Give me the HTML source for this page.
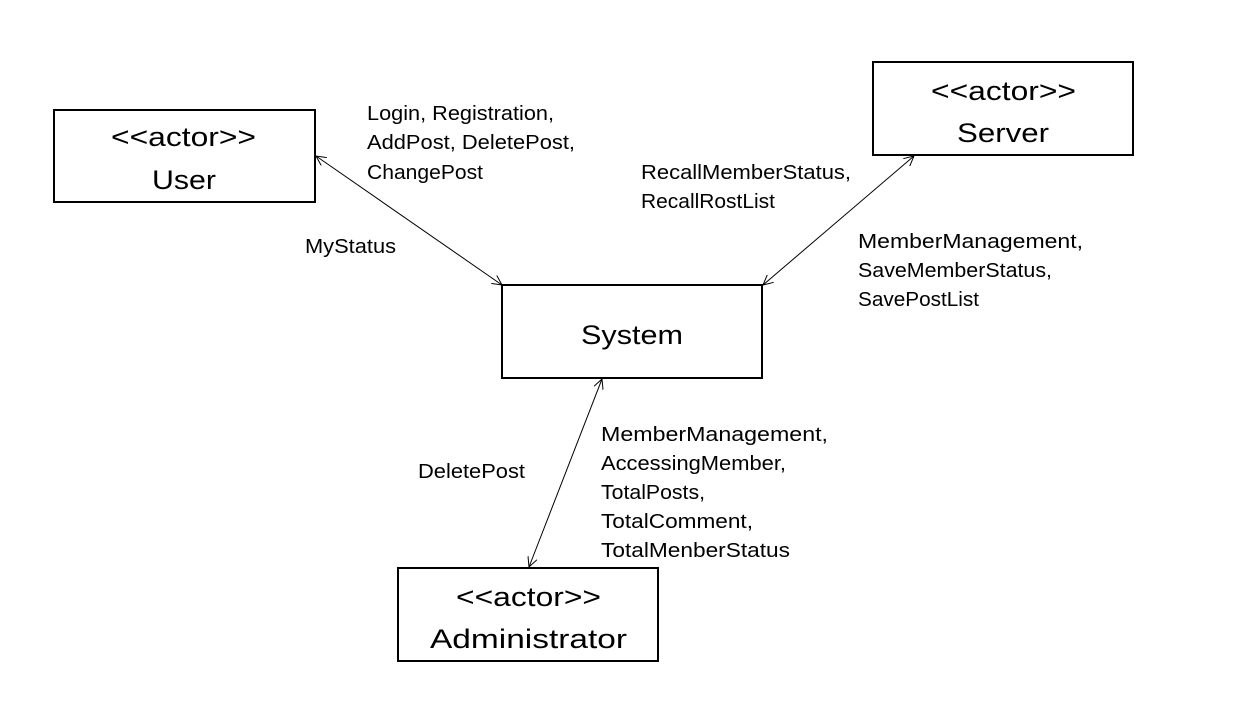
<!DOCTYPE html>
<html><head><meta charset="utf-8"><style>html,body{margin:0;padding:0;background:#fff}svg{display:block}</style></head>
<body>
<svg width="1243" height="703" xmlns="http://www.w3.org/2000/svg" font-family="Liberation Sans, sans-serif">
<defs>
<marker id="a" viewBox="0 0 10 10" refX="10" refY="5" markerWidth="10" markerHeight="10" markerUnits="userSpaceOnUse" orient="auto-start-reverse">
<path d="M0,0 L10,5 L0,10" fill="none" stroke="#000" stroke-width="1"/>
</marker>
</defs>
<g fill="#fff" stroke="#000" stroke-width="2">
<rect x="54" y="110" width="261" height="92"/>
<rect x="873" y="62" width="260" height="93"/>
<rect x="502" y="285" width="260" height="93"/>
<rect x="398" y="568" width="260" height="93"/>
</g>
<g stroke="#000" stroke-width="1" marker-start="url(#a)" marker-end="url(#a)">
<line x1="316" y1="156" x2="502" y2="285"/>
<line x1="914" y1="156" x2="763" y2="285"/>
<line x1="602" y1="379" x2="529" y2="567"/>
</g>
<g font-size="27" fill="#000">
<text x="111" y="146" textLength="145" lengthAdjust="spacingAndGlyphs">&lt;&lt;actor&gt;&gt;</text>
<text x="152" y="189" textLength="64" lengthAdjust="spacingAndGlyphs">User</text>
<text x="931" y="100" textLength="145" lengthAdjust="spacingAndGlyphs">&lt;&lt;actor&gt;&gt;</text>
<text x="957" y="142" textLength="92" lengthAdjust="spacingAndGlyphs">Server</text>
<text x="581" y="344" textLength="102" lengthAdjust="spacingAndGlyphs">System</text>
<text x="456" y="606" textLength="145" lengthAdjust="spacingAndGlyphs">&lt;&lt;actor&gt;&gt;</text>
<text x="430" y="648" textLength="197" lengthAdjust="spacingAndGlyphs">Administrator</text>
</g>
<g font-size="20" fill="#000">
<text x="367" y="120" textLength="187" lengthAdjust="spacingAndGlyphs">Login, Registration,</text>
<text x="367" y="149" textLength="208" lengthAdjust="spacingAndGlyphs">AddPost, DeletePost,</text>
<text x="367" y="179" textLength="116" lengthAdjust="spacingAndGlyphs">ChangePost</text>
<text x="305" y="253" textLength="91" lengthAdjust="spacingAndGlyphs">MyStatus</text>
<text x="641" y="179" textLength="210" lengthAdjust="spacingAndGlyphs">RecallMemberStatus,</text>
<text x="641" y="208" textLength="134" lengthAdjust="spacingAndGlyphs">RecallRostList</text>
<text x="858" y="248" textLength="225" lengthAdjust="spacingAndGlyphs">MemberManagement,</text>
<text x="858" y="277" textLength="194" lengthAdjust="spacingAndGlyphs">SaveMemberStatus,</text>
<text x="858" y="306" textLength="121" lengthAdjust="spacingAndGlyphs">SavePostList</text>
<text x="418" y="478" textLength="107" lengthAdjust="spacingAndGlyphs">DeletePost</text>
<text x="601" y="441" textLength="227" lengthAdjust="spacingAndGlyphs">MemberManagement,</text>
<text x="601" y="470" textLength="185" lengthAdjust="spacingAndGlyphs">AccessingMember,</text>
<text x="601" y="499" textLength="104" lengthAdjust="spacingAndGlyphs">TotalPosts,</text>
<text x="601" y="528" textLength="152" lengthAdjust="spacingAndGlyphs">TotalComment,</text>
<text x="601" y="557" textLength="189" lengthAdjust="spacingAndGlyphs">TotalMenberStatus</text>
</g>
</svg>
</body></html>
